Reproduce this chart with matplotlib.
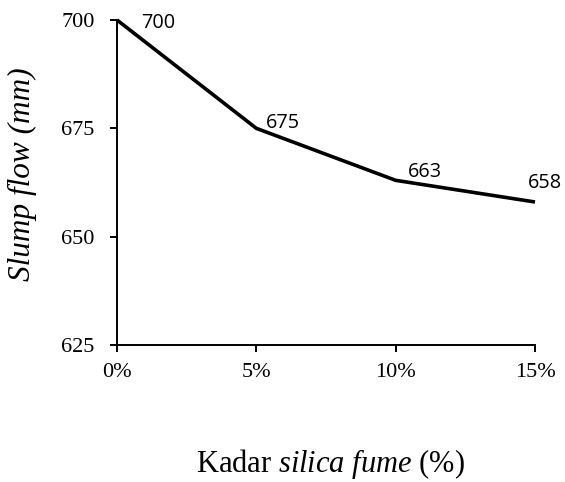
import matplotlib
matplotlib.use("Agg")
import matplotlib.pyplot as plt

kadar = [0, 5, 10, 15]
tick_labels = ["0%", "5%", "10%", "15%"]
slump = [700, 675, 663, 658]
y_ticks = [625, 650, 675, 700]
# label offsets (pixels) relative to each point, baseline aligned
label_dx = [24, 10, 12, -7]
label_dy = [-8, 0, 3, 14]

plt.rcParams['mathtext.fontset'] = 'custom'
plt.rcParams['mathtext.rm'] = 'Liberation Serif'
plt.rcParams['mathtext.it'] = 'Liberation Serif:italic'

fig = plt.figure(figsize=(5.65, 4.82), dpi=100)
ax = fig.add_axes([117/565, 1-345/482, (535-117)/565, (345-20)/482])

ax.plot(kadar, slump, color='black', lw=2.6, solid_capstyle='butt', clip_on=False)
for x, y, dx, dy in zip(kadar, slump, label_dx, label_dy):
    ax.annotate(str(y), (x, y), xytext=(dx, dy), textcoords='offset pixels',
                ha='left', va='baseline', fontsize=14.3, family='Open Sans', color='black')

ax.set_xlim(0, 15)
ax.set_ylim(625, 700)
ax.set_xticks(kadar)
ax.set_xticklabels(tick_labels)
ax.set_yticks(y_ticks)
for s in ['top', 'right']:
    ax.spines[s].set_visible(False)
for s in ['left', 'bottom']:
    ax.spines[s].set_linewidth(1.4)
ax.tick_params(axis='both', direction='out', width=1.4, length=5, labelsize=16)
ax.tick_params(axis='y', pad=11)
ax.tick_params(axis='x', pad=8)
for lab in ax.get_xticklabels() + ax.get_yticklabels():
    lab.set_fontfamily('Liberation Serif')

fig.text(22/565, 1-174/482, 'Slump flow (mm)', family='Liberation Serif', style='italic',
         fontsize=22.5, rotation=90, ha='center', va='center')
fig.text(330/565, 1-472/482, r'Kadar $\mathit{silica\ fume}$ (%)', family='Liberation Serif',
         fontsize=22, ha='center', va='baseline')

fig.savefig('out.png', dpi=100)
